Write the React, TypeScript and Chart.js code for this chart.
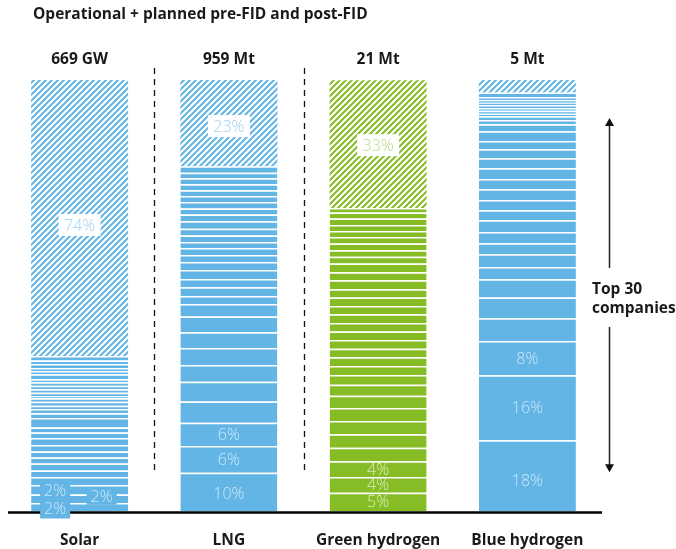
import React, { useEffect, useRef } from "react";
import { Chart, registerables } from "chart.js";
Chart.register(...registerables);

const title = "Operational + planned pre-FID and post-FID";
const categories = ["Solar", "LNG", "Green hydrogen", "Blue hydrogen"];
const capacityLabels = ["669 GW", "959 Mt", "21 Mt", "5 Mt"];
const categoryColors = ["#62b5e5", "#62b5e5", "#86bc25", "#62b5e5"];
const labelColors = ["#cfe8f8", "#cfe8f8", "#dcedbd", "#cfe8f8"];
const hatchLabelColors = ["#9dd1f0", "#9dd1f0", "#b9da82", "#9dd1f0"];

// share of each top-30 company in the bar (visual %), largest (bottom) to smallest (top)
const solarShares = [
  1.86, 1.97, 2.2, 1.86, 1.51, 1.62, 1.39, 1.39, 1.51, 1.62, 1.28, 1.16, 2.2,
  1.09, 1.0, 0.77, 0.93, 0.79, 0.53, 0.77, 0.79, 0.84, 0.79, 0.7, 1.16, 0.77,
  0.63, 1.0, 0.77, 1.09,
];
const lngShares = [
  8.9, 6.2, 5.4, 4.9, 4.6, 3.9, 3.9, 3.7, 3.6, 2.9, 1.9, 2.0, 1.9, 2.1, 1.9,
  1.6, 1.6, 1.4, 1.5, 1.6, 1.7, 1.6, 1.4, 1.5, 1.4, 1.3, 1.4, 1.4, 1.3, 1.5,
];
const greenShares = [
  4.25, 3.64, 3.64, 3.16, 3.11, 3.09, 3.02, 2.85, 2.55, 2.25, 2.09, 2.02, 2.0,
  2.02, 1.93, 2.02, 2.02, 1.93, 1.93, 1.95, 2.09, 1.86, 2.0, 1.55, 1.55, 1.53,
  1.55, 1.39, 1.39, 1.46, 1.39, 1.09,
];
const blueShares = [
  16.4, 15.1, 7.96, 5.27, 4.78, 4.27, 2.85, 2.95, 2.55, 2.62, 2.71, 2.32, 2.39,
  2.48, 2.39, 2.48, 2.32, 2.09, 1.93, 2.25, 1.62, 1.0, 0.86, 0.6, 0.7, 0.56,
  0.77, 0.53, 0.63, 0.7, 1.0,
];
// remaining (non top-30) share, hatched
const restShares = [64.0, 20.0, 29.6, 2.9];
const restLabels = ["74%", "23%", "33%", ""];
const restLabelShift = [7, 3, 1, 0];

// labels on company segments: [category, segment index, text]
const segmentLabels: [number, number, string][] = [
  [0, 0, "2%"],
  [0, 1, "2%"],
  [0, 2, "2%"],
  [1, 0, "10%"],
  [1, 1, "6%"],
  [1, 2, "6%"],
  [2, 0, "5%"],
  [2, 1, "4%"],
  [2, 2, "4%"],
  [3, 0, "18%"],
  [3, 1, "16%"],
  [3, 2, "8%"],
];
// label offsets (style only): dx, dy, background box, box top, box bottom
const labelOffsets: Record<string, [number, number, boolean, number, number]> = {
  "0-0": [-24.5, 1.5, true, 7, 10],
  "0-1": [22, -2, true, 8, 8],
  "0-2": [-24.5, 0.5, true, 8, 8],
  "1-0": [0, 2, false, 0, 0],
  "3-0": [0, 5, false, 0, 0],
};

const FONT = "'Open Sans', 'DejaVu Sans', sans-serif";

function makeHatch(color: string): CanvasPattern | string {
  const c = document.createElement("canvas");
  c.width = 6;
  c.height = 6;
  const g = c.getContext("2d");
  if (!g) return color;
  g.fillStyle = "#ffffff";
  g.fillRect(0, 0, 6, 6);
  g.strokeStyle = color;
  g.lineWidth = 2;
  g.beginPath();
  g.moveTo(-3, 9);
  g.lineTo(9, -3);
  g.moveTo(-3, 3);
  g.lineTo(3, -3);
  g.moveTo(3, 9);
  g.lineTo(9, 3);
  g.stroke();
  const p = g.createPattern(c, "repeat");
  return p || color;
}

export default function App() {
  const ref = useRef<HTMLCanvasElement | null>(null);

  useEffect(() => {
    const canvas = ref.current;
    if (!canvas) return;
    const allShares = [solarShares, lngShares, greenShares, blueShares];
    const maxLen = Math.max(...allShares.map((a) => a.length));
    const datasets: any[] = [];
    for (let i = 0; i < maxLen; i++) {
      datasets.push({
        label: "Company " + (i + 1),
        data: allShares.map((a) => (i < a.length ? a[i] : 0)),
        backgroundColor: categoryColors,
        borderColor: "#ffffff",
        borderWidth: { top: 1.5, bottom: 0, left: 0, right: 0 },
        borderSkipped: false,
        inflateAmount: 0,
      });
    }
    datasets.push({
      label: "Other",
      data: restShares,
      backgroundColor: categoryColors.map((c) => makeHatch(c)),
      borderWidth: 0,
      inflateAmount: 0,
    });
    const restIndex = datasets.length - 1;

    const overlay = {
      id: "overlay",
      afterDatasetsDraw(chart: any) {
        const ctx = chart.ctx;
        const area = chart.chartArea;
        const xs = chart.scales.x;
        const ys = chart.scales.y;
        ctx.save();
        // baseline
        ctx.strokeStyle = "#000000";
        ctx.lineWidth = 2.5;
        ctx.beginPath();
        ctx.moveTo(8, area.bottom + 1.5);
        ctx.lineTo(area.right, area.bottom + 1.5);
        ctx.stroke();
        // segment labels
        segmentLabels.forEach(([cat, seg, text]) => {
          const el = chart.getDatasetMeta(seg).data[cat];
          if (!el) return;
          const off = labelOffsets[cat + "-" + seg] || [0, 0, false, 0, 0];
          const cx = el.x + off[0];
          const cy = (el.y + el.base) / 2 + off[1];
          ctx.font = "300 16px " + FONT;
          ctx.textAlign = "center";
          ctx.textBaseline = "middle";
          if (off[2]) {
            const w = ctx.measureText(text).width + 8;
            ctx.fillStyle = categoryColors[cat];
            ctx.fillRect(cx - w / 2, cy - off[3], w, off[3] + off[4]);
          }
          ctx.fillStyle = labelColors[cat];
          ctx.fillText(text, cx, cy + 1);
        });
        // hatched labels with white box
        const restMeta = chart.getDatasetMeta(restIndex);
        restLabels.forEach((t, cat) => {
          if (!t) return;
          const el = restMeta.data[cat];
          const cx = el.x;
          const cy = (el.y + el.base) / 2 + restLabelShift[cat];
          ctx.font = "300 16px " + FONT;
          ctx.textAlign = "center";
          ctx.textBaseline = "middle";
          ctx.fillStyle = "#ffffff";
          ctx.fillRect(cx - 21, cy - 11, 42, 22);
          ctx.fillStyle = hatchLabelColors[cat];
          ctx.fillText(t, cx, cy + 1);
        });
        // capacity labels above bars
        ctx.font = "bold 15.5px " + FONT;
        ctx.fillStyle = "#1a1a1a";
        ctx.textAlign = "center";
        ctx.textBaseline = "middle";
        capacityLabels.forEach((t, i) => {
          ctx.fillText(t, xs.getPixelForValue(i), area.top - 20);
        });
        // category labels
        categories.forEach((t, i) => {
          ctx.fillText(t, xs.getPixelForValue(i), area.bottom + 30);
        });
        // title
        ctx.textAlign = "left";
        ctx.fillText(title, 33, 15);
        // dashed separators
        ctx.strokeStyle = "#111111";
        ctx.lineWidth = 1.3;
        ctx.setLineDash([6, 5]);
        [0, 1].forEach((i) => {
          const x =
            Math.round((xs.getPixelForValue(i) + xs.getPixelForValue(i + 1)) / 2) + 0.5;
          ctx.beginPath();
          ctx.moveTo(x, 68);
          ctx.lineTo(x, ys.getPixelForValue(9.5));
          ctx.stroke();
        });
        ctx.setLineDash([]);
        // top 30 annotation arrows
        const ax = area.right + 7.5;
        const topTip = ys.getPixelForValue(91.2);
        const botTip = ys.getPixelForValue(9.0);
        ctx.strokeStyle = "#222222";
        ctx.fillStyle = "#111111";
        ctx.lineWidth = 1.5;
        ctx.beginPath();
        ctx.moveTo(ax, 268);
        ctx.lineTo(ax, topTip + 6);
        ctx.moveTo(ax, 327);
        ctx.lineTo(ax, botTip - 6);
        ctx.stroke();
        ctx.beginPath();
        ctx.moveTo(ax, topTip);
        ctx.lineTo(ax - 4.5, topTip + 8);
        ctx.lineTo(ax + 4.5, topTip + 8);
        ctx.closePath();
        ctx.fill();
        ctx.beginPath();
        ctx.moveTo(ax, botTip);
        ctx.lineTo(ax - 4.5, botTip - 8);
        ctx.lineTo(ax + 4.5, botTip - 8);
        ctx.closePath();
        ctx.fill();
        ctx.font = "bold 15.5px " + FONT;
        ctx.fillStyle = "#1a1a1a";
        ctx.textAlign = "left";
        ctx.fillText("Top 30", 592, 290);
        ctx.fillText("companies", 592, 309);
        ctx.restore();
      },
    };

    const chart = new Chart(canvas, {
      type: "bar",
      data: { labels: categories, datasets },
      options: {
        animation: false,
        responsive: false,
        maintainAspectRatio: false,
        layout: { padding: { left: 5, right: 74, top: 80, bottom: 38 } },
        plugins: { legend: { display: false }, tooltip: { enabled: false } },
        datasets: { bar: { categoryPercentage: 1, barPercentage: 0.65 } },
        scales: {
          x: { stacked: true, display: false, offset: true },
          y: { stacked: true, display: false, min: 0, max: 100 },
        },
      },
      plugins: [overlay],
    });
    return () => chart.destroy();
  }, []);

  return (
    <div style={{ position: "absolute", left: 0, top: 0, width: 676, height: 549, background: "#fff" }}>
      <canvas ref={ref} width={676} height={549} style={{ display: "block" }} />
    </div>
  );
}
